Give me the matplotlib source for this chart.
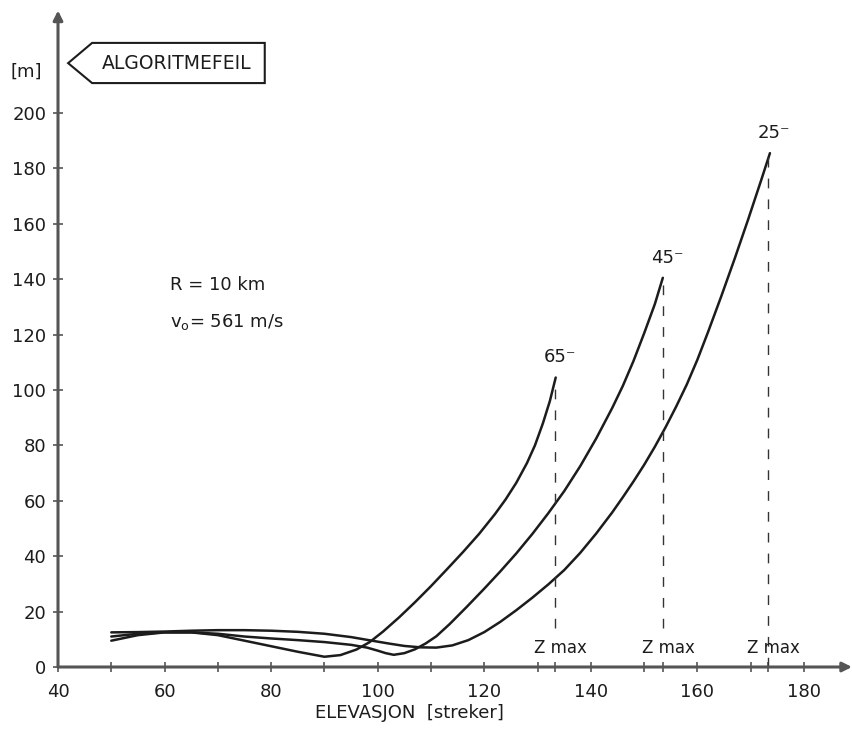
import matplotlib
matplotlib.use("Agg")
import matplotlib.pyplot as plt
from matplotlib.patches import Polygon

# elevasjon [streker] og algoritmefeil [m] for de tre kurvene
x_65 = [50, 55, 60, 65, 70, 75, 80, 85, 90, 93, 96, 98.5, 101, 104, 107, 110, 113,
        116, 119, 122, 124, 126, 128, 129.5, 131, 132.3, 133.4]
y_65 = [9.5, 11.5, 12.5, 12.5, 11.5, 9.5, 7.5, 5.5, 3.7, 4.3, 6.3, 9.0, 12.8, 17.9,
        23.4, 29.2, 35.3, 41.5, 48, 55.2, 60.5, 66.5, 73.6, 80, 88, 96, 104.5]

x_45 = [50, 55, 60, 65, 70, 75, 80, 85, 90, 95, 98, 100, 101.5, 103, 105, 107, 109,
        111, 113.5, 116.7, 120, 123, 126, 129, 132, 135, 138, 141, 144, 146, 148,
        150, 152, 153.5]
y_45 = [11, 12, 12.5, 12.5, 12, 11, 10.3, 9.7, 9, 8, 7, 5.9, 5.0, 4.4, 5.0, 6.4, 8.5,
        11.1, 15.5, 21.7, 28.3, 34.5, 41, 48, 55.5, 63.5, 72.5, 82.5, 93.5, 101.5,
        110.5, 120.5, 131, 140.5]

x_25 = [50, 55, 60, 65, 70, 75, 80, 85, 90, 95, 98, 102, 105, 108, 111, 114, 117,
        120, 123, 126, 129, 132, 135, 138, 141, 144, 146, 148, 150, 152, 154, 156,
        158, 160, 162, 164.5, 167, 169.5, 172, 173.6]
y_25 = [12.5, 12.6, 12.8, 13.1, 13.3, 13.3, 13.1, 12.7, 12, 10.8, 9.8, 8.5, 7.6, 7.1,
        7.0, 7.8, 9.7, 12.6, 16.3, 20.5, 25, 29.8, 35, 41.2, 48.2, 55.8, 61.3, 67,
        73, 79.5, 86.5, 94, 102, 111, 121, 134, 147.5, 161.5, 176, 185.5]

curve_labels = ["65⁻", "45⁻", "25⁻"]
zmax_x = [133.3, 153.5, 173.3]
xticks_major = [40, 60, 80, 100, 120, 140, 160, 180]
yticks = [0, 20, 40, 60, 80, 100, 120, 140, 160, 180, 200]

ink = "#1c1c1c"
axis_col = "#555555"

fig = plt.figure(figsize=(8.52, 7.30), dpi=100)
ax = fig.add_axes([58 / 852, 63 / 730, 794 / 852, 656.5 / 730])
ax.set_xlim(40, 189)
ax.set_ylim(0, 237)
for s in ax.spines.values():
    s.set_visible(False)

# akser med piler
ax.annotate("", xy=(189, 0), xytext=(40, 0), annotation_clip=False,
            arrowprops=dict(arrowstyle="-|>", color=axis_col, lw=2.2,
                            mutation_scale=14, shrinkA=0, shrinkB=0))
ax.annotate("", xy=(40, 237), xytext=(40, 0), annotation_clip=False,
            arrowprops=dict(arrowstyle="-|>", color=axis_col, lw=2.2,
                            mutation_scale=14, shrinkA=0, shrinkB=0))

ax.set_xticks(xticks_major)
ax.set_xticks(list(range(50, 190, 20)) + zmax_x, minor=True)
ax.set_yticks(yticks)
ax.tick_params(axis="both", which="both", direction="inout", length=7,
               width=1.2, color=axis_col, labelsize=13, labelcolor=ink)
ax.tick_params(axis="x", pad=8)
ax.tick_params(axis="y", pad=5)

# kurvene
for xs, ys, lab in [(x_65, y_65, curve_labels[0]), (x_45, y_45, curve_labels[1]),
                    (x_25, y_25, curve_labels[2])]:
    ax.plot(xs, ys, color=ink, lw=1.8, solid_capstyle="round",
            solid_joinstyle="round")
    ax.text(xs[-1] + 0.8, ys[-1] + 4, lab, fontsize=13, color=ink,
            ha="center", va="bottom")

# Zmax-linjer
for xz, ytop, ybot in zip(zmax_x, [y_65[-1], y_45[-1], y_25[-1]], [14, 14, 0]):
    ax.plot([xz, xz], [ybot, ytop], color="#333333", lw=1.0, ls=(0, (7, 8)))
    ax.text(xz + 1, 7, "Z max", fontsize=12, color=ink, ha="center", va="center")

ax.text(61, 138, "R = 10 km", fontsize=13, color=ink, va="center")
ax.text(61, 124.5, r"v$_{\rm o}$= 561 m/s", fontsize=13, color=ink, va="center")

ax.text(34, 215, "[m]", fontsize=13, color=ink, ha="center", va="center")
box = Polygon([(41.9, 218), (46.4, 225.3), (78.8, 225.3), (78.8, 210.8), (46.4, 210.8)],
              closed=True, fill=False, edgecolor=ink, lw=1.5, clip_on=False)
ax.add_patch(box)
ax.text(62.3, 218, "ALGORITMEFEIL", fontsize=13.5, color=ink, ha="center", va="center")

ax.text(106, -16.5, "ELEVASJON  [streker]", fontsize=13, color=ink,
        ha="center", va="center")

fig.savefig("out.png", dpi=100)
